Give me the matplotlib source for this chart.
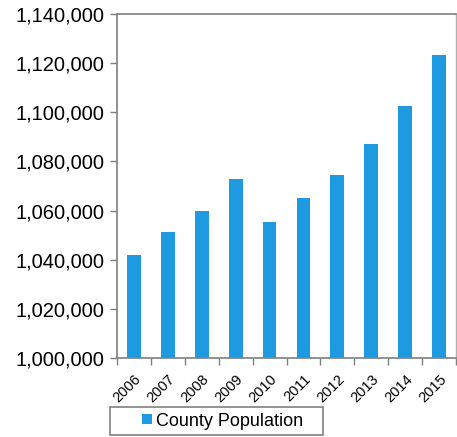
import matplotlib
matplotlib.use('Agg')
import matplotlib.pyplot as plt
from matplotlib.lines import Line2D
from matplotlib.ticker import FuncFormatter

years = ['2006', '2007', '2008', '2009', '2010', '2011', '2012', '2013', '2014', '2015']
population = [1042000, 1051400, 1060000, 1073000, 1055500, 1065000, 1074500, 1087000, 1102600, 1123400]
series_name = 'County Population'

bar_color = '#1E9BE0'
spine_color = '#7f7f7f'

plt.rcParams['font.family'] = ['Liberation Sans', 'DejaVu Sans']

W, H = 457, 437
fig = plt.figure(figsize=(W / 100, H / 100), dpi=100)
ax = fig.add_axes([117 / W, 1 - 358 / H, (456 - 117) / W, (358 - 14) / H])

x = list(range(len(years)))
ax.bar(x, population, width=0.41, color=bar_color, zorder=2)

ax.set_xlim(-0.5, len(years) - 0.5)
ax.set_ylim(1000000, 1140000)
ax.set_yticks(range(1000000, 1140001, 20000))
ax.yaxis.set_major_formatter(FuncFormatter(lambda v, p: '{:,.0f}'.format(v)))
ax.tick_params(axis='y', labelsize=14.5, length=5, width=1, color=spine_color, pad=4)

# labels under the bars, tick marks between categories
ax.set_xticks(x)
ax.set_xticklabels(years, rotation=45, ha='right', rotation_mode='anchor', fontsize=10.5)
ax.tick_params(axis='x', which='major', length=0, pad=10)
ax.set_xticks([i - 0.5 for i in range(len(years) + 1)], minor=True)
ax.tick_params(axis='x', which='minor', length=5, width=1, color=spine_color)

for side in ['left', 'bottom', 'top']:
    ax.spines[side].set_color(spine_color)
    ax.spines[side].set_linewidth(1.2)
ax.spines['right'].set_color('#b0b0b0')
ax.spines['right'].set_linewidth(1.0)

handle = Line2D([], [], linestyle='none', marker='s', markersize=6.5,
                color=bar_color, markeredgewidth=0)
leg = fig.legend([handle], [series_name], loc='lower left',
                 bbox_to_anchor=(110 / W, 1 - 435 / H, 213 / W, 29 / H),
                 mode='expand', borderaxespad=0, fontsize=13,
                 handlelength=3.5, handletextpad=-1.25, borderpad=0.3,
                 fancybox=False, frameon=True)
leg.get_frame().set_edgecolor('#606060')
leg.get_frame().set_linewidth(1.2)

fig.savefig('out.png', dpi=100)
